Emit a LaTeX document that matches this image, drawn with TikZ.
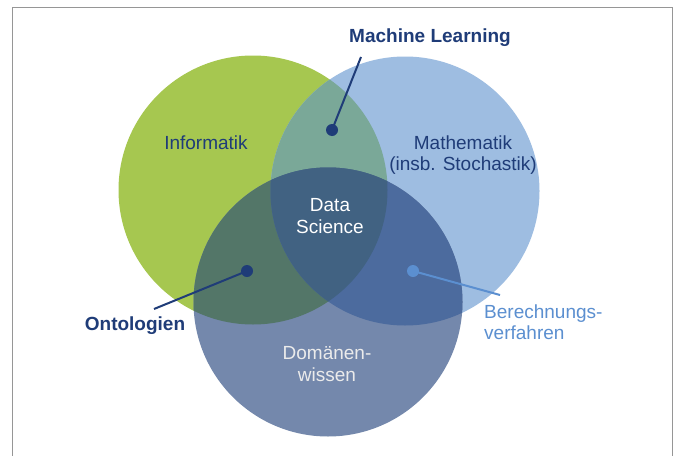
\documentclass[tikz,border=0pt]{standalone}
\usepackage{fontspec}
\setmainfont{Liberation Sans}
\definecolor{cgreen}{RGB}{166,199,80}
\definecolor{clight}{RGB}{158,189,225}
\definecolor{cdark}{RGB}{116,136,172}
\definecolor{cGL}{RGB}{122,168,152}
\definecolor{cGD}{RGB}{83,118,104}
\definecolor{cLD}{RGB}{76,107,158}
\definecolor{cALL}{RGB}{65,98,130}
\definecolor{navy}{RGB}{31,60,120}
\definecolor{sky}{RGB}{91,143,208}
\definecolor{frame}{RGB}{150,150,150}
\tikzset{
  lbl/.style={font=\fontsize{19}{21.3}\selectfont, align=center, inner sep=0pt},
  boldlbl/.style={lbl, font=\fontsize{19}{21.3}\selectfont\bfseries, text=navy},
  dotnode/.style={circle, inner sep=0pt, minimum size=12pt},
}
\begin{document}
\begin{tikzpicture}[x=1pt,y=-1pt]
\useasboundingbox (0,0) rectangle (677,455);
\fill[white] (0,0) rectangle (677,455);
\draw[frame, line width=1.5pt] (12.5,470) -- (12.5,7.5) -- (672.5,7.5) -- (672.5,470);
% circle centres
\coordinate (G) at (253,190);
\coordinate (L) at (405,191);
\coordinate (D) at (328,302);
\def\R{134.5}
\fill[cgreen] (G) circle (\R);
\fill[clight] (L) circle (\R);
\fill[cdark] (D) circle (\R);
\begin{scope}
  \clip (G) circle (\R);
  \fill[cGL] (L) circle (\R);
  \fill[cGD] (D) circle (\R);
\end{scope}
\begin{scope}
  \clip (L) circle (\R);
  \fill[cLD] (D) circle (\R);
\end{scope}
\begin{scope}
  \clip (G) circle (\R);
  \clip (L) circle (\R);
  \fill[cALL] (D) circle (\R);
\end{scope}
% labels
\node[lbl, text=navy] (inf) at (206,143) {Informatik};
\node[lbl, text=navy] (math) at (463,155) {Mathematik\\(insb. Stochastik)};
\node[lbl, text=white] (ds) at (330,216) {Data\\Science};
\node[lbl, text=white!92!black] (dom) at (327,364) {Domänen-\\wissen};
\node[boldlbl] (ml) at (430,38) {Machine Learning};
\node[boldlbl] (onto) at (135,326) {Ontologien};
\node[lbl, text=sky, align=left, anchor=west] (ber) at (484,322) {Berechnungs-\\verfahren};
% dots and connectors
\node[dotnode, fill=navy] (mldot) at (332,130) {};
\node[dotnode, fill=navy] (ontodot) at (247,271) {};
\node[dotnode, fill=sky] (berdot) at (413,271) {};
\coordinate (mlend) at (361,57);
\coordinate (ontoend) at (154,309);
\coordinate (berend) at (500,295);
\draw[navy, line width=2pt] (mldot.center) -- (mlend);
\draw[navy, line width=2pt] (ontodot.center) -- (ontoend);
\draw[sky, line width=2pt] (berdot.center) -- (berend);
\end{tikzpicture}
\end{document}
